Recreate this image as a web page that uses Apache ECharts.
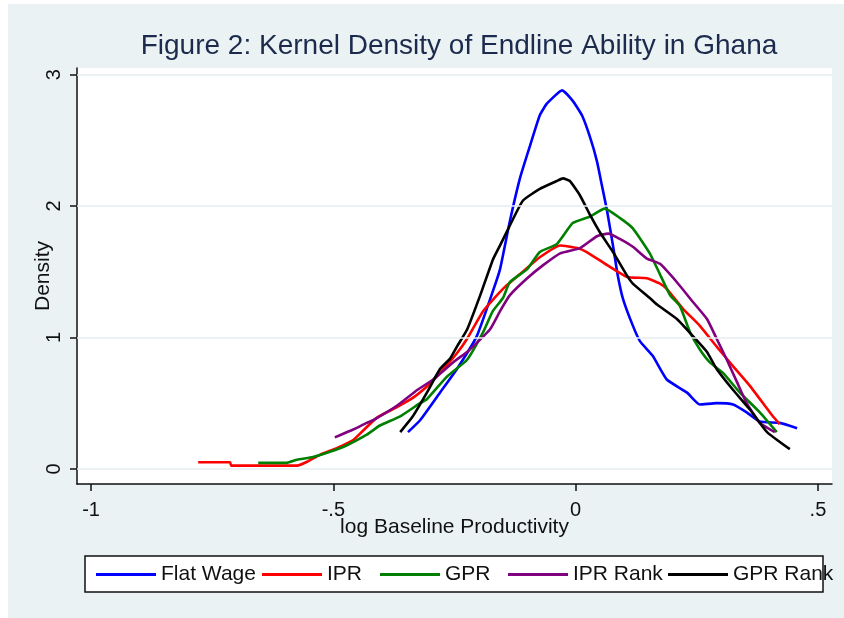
<!DOCTYPE html>
<html lang="en">
<head>
    <meta charset="utf-8">
    <title>Kernel Density of Endline Ability in Ghana</title>
    <script src="https://cdn.jsdelivr.net/npm/echarts@6.0.0/dist/echarts.min.js"></script>
    <style>
        html, body { margin: 0; padding: 0; background: #fff; }
        #main { width: 844px; height: 618px; }
    </style>
</head>
<body>
<div id="main"></div>
<script type="text/javascript">
    // x = log baseline productivity, y = density
    var flatWage = [[-0.346,0.28],[-0.321,0.37],[-0.28,0.58],[-0.245,0.76],[-0.204,1.01],[-0.171,1.35],[-0.156,1.52],
        [-0.136,1.88],[-0.115,2.21],[-0.094,2.46],[-0.074,2.69],[-0.059,2.78],[-0.028,2.88],[-0.006,2.80],[0.013,2.69],
        [0.030,2.52],[0.044,2.34],[0.054,2.16],[0.065,1.96],[0.077,1.70],[0.087,1.47],[0.098,1.29],[0.118,1.09],
        [0.133,0.97],[0.159,0.86],[0.188,0.68],[0.230,0.58],[0.256,0.49],[0.291,0.50],[0.325,0.49],[0.353,0.43],
        [0.380,0.36],[0.421,0.35],[0.457,0.31]];
    var ipr = [[-0.779,0.05],[-0.713,0.05],[-0.711,0.025],[-0.575,0.025],[-0.554,0.054],[-0.528,0.107],[-0.492,0.16],
        [-0.459,0.22],[-0.439,0.29],[-0.410,0.39],[-0.369,0.47],[-0.336,0.54],[-0.300,0.65],[-0.280,0.73],[-0.245,0.88],
        [-0.224,0.99],[-0.191,1.20],[-0.150,1.37],[-0.109,1.50],[-0.074,1.61],[-0.032,1.70],[0.003,1.68],[0.023,1.65],
        [0.065,1.55],[0.106,1.46],[0.147,1.45],[0.174,1.41],[0.188,1.37],[0.221,1.22],[0.256,1.09],[0.291,0.93],
        [0.325,0.78],[0.360,0.63],[0.407,0.40],[0.421,0.34]];
    var gpr = [[-0.655,0.046],[-0.596,0.046],[-0.575,0.07],[-0.542,0.09],[-0.507,0.13],[-0.472,0.18],[-0.431,0.26],
        [-0.404,0.33],[-0.362,0.40],[-0.321,0.50],[-0.307,0.53],[-0.266,0.70],[-0.224,0.83],[-0.191,1.04],[-0.171,1.20],
        [-0.150,1.30],[-0.136,1.42],[-0.100,1.52],[-0.074,1.65],[-0.039,1.71],[-0.006,1.87],[0.030,1.92],[0.060,1.98],
        [0.091,1.91],[0.118,1.83],[0.153,1.64],[0.174,1.48],[0.195,1.32],[0.215,1.24],[0.236,1.04],[0.256,0.91],
        [0.277,0.81],[0.304,0.73],[0.339,0.58],[0.380,0.43],[0.415,0.28]];
    var iprRank = [[-0.497,0.24],[-0.459,0.30],[-0.431,0.35],[-0.418,0.37],[-0.369,0.48],[-0.327,0.60],[-0.294,0.68],
        [-0.253,0.81],[-0.224,0.89],[-0.212,0.93],[-0.177,1.06],[-0.156,1.20],[-0.136,1.32],[-0.100,1.45],[-0.067,1.55],
        [-0.032,1.64],[0.009,1.68],[0.044,1.77],[0.067,1.79],[0.091,1.75],[0.118,1.69],[0.147,1.60],[0.174,1.56],
        [0.209,1.42],[0.242,1.27],[0.271,1.14],[0.291,0.99],[0.312,0.83],[0.333,0.66],[0.353,0.50],[0.380,0.35],
        [0.411,0.28]];
    var gprRank = [[-0.362,0.28],[-0.336,0.40],[-0.307,0.58],[-0.280,0.76],[-0.259,0.84],[-0.245,0.93],[-0.224,1.06],
        [-0.197,1.32],[-0.171,1.59],[-0.156,1.70],[-0.136,1.85],[-0.109,2.04],[-0.074,2.13],[-0.039,2.19],[-0.026,2.21],
        [-0.012,2.19],[0.009,2.08],[0.030,1.93],[0.050,1.80],[0.077,1.65],[0.106,1.47],[0.118,1.41],[0.153,1.30],
        [0.168,1.25],[0.209,1.14],[0.242,1.01],[0.271,0.89],[0.291,0.76],[0.325,0.60],[0.360,0.45],[0.395,0.28],
        [0.442,0.15]];

    var seriesNames = ['Flat Wage', 'IPR', 'GPR', 'IPR Rank', 'GPR Rank'];
    var seriesData = [flatWage, ipr, gpr, iprRank, gprRank];
    var seriesColors = ['#0000ff', '#ff0000', '#008000', '#800080', '#000000'];
    var xTicks = [-1, -0.5, 0, 0.5];
    var xTickLabels = ['-1', '-.5', '0', '.5'];
    var yTicks = [0, 1, 2, 3];

    var legendLeft = [96, 262, 380, 508, 668];
    var fontName = '"Liberation Sans", Arial, sans-serif';

    var myChart = echarts.init(document.getElementById('main'));

    var series = [{
        // light horizontal grid lines
        type: 'line',
        data: [],
        z: 1,
        silent: true,
        markLine: {
            silent: true,
            symbol: 'none',
            label: { show: false },
            lineStyle: { color: '#e6eef0', width: 1.5, type: 'solid' },
            data: yTicks.map(function (v) { return { yAxis: v }; })
        }
    }];
    seriesNames.forEach(function (name, i) {
        series.push({
            name: name,
            type: 'line',
            data: seriesData[i],
            showSymbol: false,
            smooth: 0.15,
            z: 3,
            color: seriesColors[i],
            lineStyle: { width: 2.6, color: seriesColors[i] }
        });
    });

    var option = {
        backgroundColor: '#eaf2f3',
        animation: false,
        textStyle: { fontFamily: fontName },
        title: {
            text: 'Figure 2: Kernel Density of Endline Ability in Ghana',
            left: 454,
            textAlign: 'center',
            top: 27,
            textStyle: { fontSize: 28, fontWeight: 'normal', color: '#1c2b4d', fontFamily: fontName }
        },
        graphic: [
            { type: 'rect', shape: { x: 0, y: 0, width: 8, height: 618 }, style: { fill: '#fff' }, z: 100 },
            { type: 'rect', shape: { x: 0, y: 0, width: 844, height: 4 }, style: { fill: '#fff' }, z: 100 },
            { type: 'rect', shape: { x: 85, y: 556, width: 738, height: 36 },
              style: { fill: '#fff', stroke: '#111', lineWidth: 1.5 }, z: 1 }
        ],
        legend: seriesNames.map(function (name, i) {
            return {
                data: [name],
                left: legendLeft[i],
                top: 564,
                padding: 0,
                icon: 'rect',
                itemWidth: 60,
                itemHeight: 3,
                selectedMode: false,
                textStyle: { fontSize: 21, color: '#111', fontFamily: fontName }
            };
        }),
        grid: {
            left: 77,
            right: 12,
            top: 68,
            bottom: 134,
            show: true,
            backgroundColor: '#fff',
            borderWidth: 0
        },
        xAxis: {
            type: 'value',
            min: -1.029,
            max: 0.529,
            name: 'log Baseline Productivity',
            nameLocation: 'middle',
            nameGap: 33,
            nameMoveOverlap: false,
            nameTextStyle: { fontSize: 21, color: '#111', fontFamily: fontName },
            axisLine: { show: true, onZero: false, lineStyle: { color: '#111', width: 1.5 } },
            axisTick: { show: true, length: 7, customValues: xTicks, lineStyle: { color: '#111', width: 1.5 } },
            axisLabel: {
                customValues: xTicks,
                margin: 16,
                fontSize: 20,
                color: '#111',
                formatter: function (v) {
                    var k = xTicks.indexOf(v);
                    return k >= 0 ? xTickLabels[k] : '';
                }
            },
            splitLine: { show: false }
        },
        yAxis: {
            type: 'value',
            min: -0.115,
            max: 3.05,
            name: 'Density',
            nameLocation: 'middle',
            nameGap: 23,
            nameMoveOverlap: false,
            nameRotate: 90,
            nameTextStyle: { fontSize: 21, color: '#111', fontFamily: fontName },
            axisLine: { show: true, onZero: false, lineStyle: { color: '#111', width: 1.5 } },
            axisTick: { show: true, length: 7, customValues: yTicks, lineStyle: { color: '#111', width: 1.5 } },
            axisLabel: {
                customValues: yTicks,
                rotate: 90,
                margin: 13,
                fontSize: 20,
                color: '#111'
            },
            splitLine: { show: false }
        },
        series: series
    };

    myChart.setOption(option);
</script>
</body>
</html>
